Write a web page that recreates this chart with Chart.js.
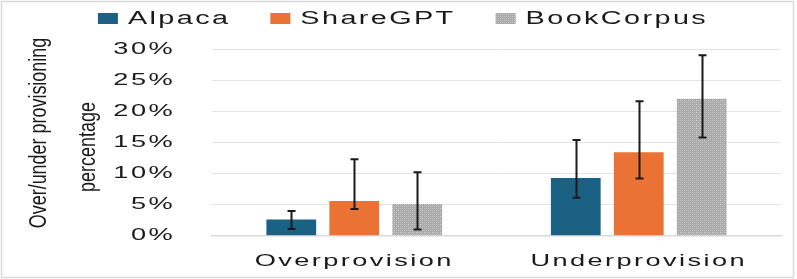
<!DOCTYPE html>
<html>
<head>
<meta charset="utf-8">
<script src="https://cdn.jsdelivr.net/npm/chart.js@4"></script>
<style>
  html, body { margin: 0; padding: 0; background: #fff; overflow: hidden; }
  canvas { display: block; }
</style>
</head>
<body>
<!-- a few extra px below the visible window, so the zero line lands at the reference height -->
<canvas id="provChart" width="797" height="283"></canvas>
<script>
const categories = ['Overprovision', 'Underprovision'];
const seriesNames = ['Alpaca', 'ShareGPT', 'BookCorpus'];

const alpacaValues = [2.6, 9.3];
const alpacaLow = [1.1, 6.1];
const alpacaHigh = [4.0, 15.4];

const shareGptValues = [5.6, 13.4];
const shareGptLow = [4.3, 9.2];
const shareGptHigh = [12.3, 21.6];

const bookCorpusValues = [5.1, 22.0];
const bookCorpusLow = [1.0, 15.8];
const bookCorpusHigh = [10.2, 29.0];

const yTicks = [0, 5, 10, 15, 20, 25, 30];
const titleLines = ['Over/under provisioning', 'percentage'];

const TEXT_FONT = '"Liberation Sans", Arial, sans-serif';
const STRETCH = 1.6;
const SPACING = '1.5px';

const canvas = document.getElementById('provChart');
const ctx = canvas.getContext('2d');

// the reference uses a wide rounded face; fake it by stretching the sans text
const rawFillText = ctx.fillText.bind(ctx);
const rawMeasureText = ctx.measureText.bind(ctx);
ctx.fillText = function(text, x, y) {
  ctx.save();
  ctx.translate(x, y);
  ctx.scale(STRETCH, 1);
  ctx.letterSpacing = SPACING;
  rawFillText(text, 0, 0);
  ctx.restore();
};
ctx.measureText = function(text) {
  const prev = ctx.letterSpacing;
  ctx.letterSpacing = SPACING;
  const m = rawMeasureText(text);
  ctx.letterSpacing = prev;
  return { width: m.width * STRETCH };
};

function makeDotPattern() {
  const tile = document.createElement('canvas');
  tile.width = 4;
  tile.height = 4;
  const t = tile.getContext('2d');
  t.fillStyle = '#a9a9a9';
  t.fillRect(0, 0, 4, 4);
  t.fillStyle = '#d6d6d6';
  t.fillRect(0, 0, 1, 1);
  t.fillRect(2, 2, 1, 1);
  t.fillStyle = '#bdbdbd';
  t.fillRect(2, 0, 1, 1);
  t.fillRect(0, 2, 1, 1);
  return ctx.createPattern(tile, 'repeat');
}

const errorRanges = [
  { low: alpacaLow, high: alpacaHigh },
  { low: shareGptLow, high: shareGptHigh },
  { low: bookCorpusLow, high: bookCorpusHigh }
];

const errorBars = {
  id: 'errorBars',
  afterDatasetsDraw(chart) {
    const c = chart.ctx;
    const yScale = chart.scales.y;
    c.save();
    c.strokeStyle = '#1a1a1a';
    c.lineWidth = 2;
    chart.data.datasets.forEach((ds, i) => {
      const meta = chart.getDatasetMeta(i);
      meta.data.forEach((bar, j) => {
        const x = Math.round(bar.x) + 0.5;
        const yLow = yScale.getPixelForValue(errorRanges[i].low[j]);
        const yHigh = yScale.getPixelForValue(errorRanges[i].high[j]);
        c.beginPath();
        c.moveTo(x, yLow);
        c.lineTo(x, yHigh);
        c.moveTo(x - 4, yLow);
        c.lineTo(x + 4, yLow);
        c.moveTo(x - 4, yHigh);
        c.lineTo(x + 4, yHigh);
        c.stroke();
      });
    });
    c.restore();
  }
};

const customLegend = {
  id: 'customLegend',
  afterDraw(chart) {
    const c = chart.ctx;
    const boxW = 20, boxH = 11, gap = 10, spacing = 40, yMid = 18.5;
    c.save();
    c.font = '18px ' + TEXT_FONT;
    c.textAlign = 'left';
    c.textBaseline = 'middle';
    const widths = chart.data.datasets.map(ds => boxW + gap + c.measureText(ds.label).width);
    const total = widths.reduce((a, b) => a + b, 0) + spacing * (widths.length - 1);
    let x = 403 - total / 2;
    chart.data.datasets.forEach((ds, i) => {
      c.fillStyle = ds.backgroundColor;
      c.fillRect(x, yMid - boxH / 2, boxW, boxH);
      c.fillStyle = '#1a1a1a';
      c.fillText(ds.label, x + boxW + gap, yMid + 1);
      x += widths[i] + spacing;
    });
    c.restore();
  }
};

// condensed two-line axis title, squeezed along the text direction
const axisTitle = {
  id: 'axisTitle',
  afterDraw(chart) {
    const c = chart.ctx;
    const spots = [[40, 133], [89, 147]];
    c.save();
    c.font = '23px ' + TEXT_FONT;
    c.fillStyle = '#1a1a1a';
    c.textAlign = 'center';
    c.textBaseline = 'middle';
    titleLines.forEach((line, i) => {
      c.save();
      c.translate(spots[i][0], spots[i][1]);
      c.rotate(-Math.PI / 2);
      c.scale(0.78, 1);
      rawFillText(line, 0, 0);
      c.restore();
    });
    c.restore();
  }
};

const frame = {
  id: 'frame',
  beforeDraw(chart) {
    const c = chart.ctx;
    c.save();
    c.fillStyle = '#ffffff';
    c.fillRect(0, 0, chart.width, chart.height);
    c.strokeStyle = '#dadada';
    c.lineWidth = 1.5;
    c.strokeRect(1.5, 1.5, 792, 276);
    c.restore();
  }
};

new Chart(ctx, {
  type: 'bar',
  data: {
    labels: categories,
    datasets: [
      { label: seriesNames[0], data: alpacaValues, backgroundColor: '#1a6184' },
      { label: seriesNames[1], data: shareGptValues, backgroundColor: '#ea7234' },
      { label: seriesNames[2], data: bookCorpusValues, backgroundColor: makeDotPattern() }
    ]
  },
  options: {
    responsive: false,
    devicePixelRatio: 1,
    animation: false,
    categoryPercentage: 0.664,
    barPercentage: 0.79,
    layout: { autoPadding: false, padding: { top: 49, right: 16, left: 0, bottom: 0 } },
    plugins: {
      legend: { display: false },
      tooltip: { enabled: false }
    },
    scales: {
      x: {
        grid: { display: false, drawTicks: false },
        border: { display: true, color: '#d9d9d9', width: 1.5 },
        ticks: {
          color: '#1a1a1a',
          padding: 15,
          font: { family: TEXT_FONT, size: 17 }
        },
        afterFit(scale) { scale.height = 43; }
      },
      y: {
        min: 0,
        max: 30,
        afterBuildTicks(scale) { scale.ticks = yTicks.map(v => ({ value: v })); },
        grid: { color: '#e3e3e3', lineWidth: 1, drawTicks: false },
        border: { display: false },
        ticks: {
          color: '#1a1a1a',
          padding: 37,
          font: { family: TEXT_FONT, size: 17 },
          callback: v => v + '%'
        },
        afterFit(scale) { scale.width = 212; }
      }
    }
  },
  plugins: [frame, errorBars, customLegend, axisTitle]
});
</script>
</body>
</html>
